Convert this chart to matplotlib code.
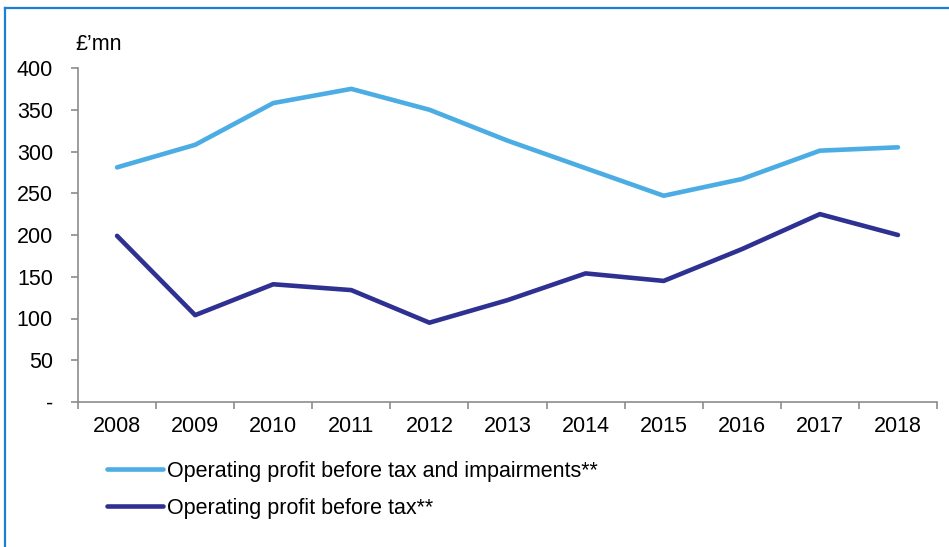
import numpy as np
import matplotlib
matplotlib.use("Agg")
import matplotlib.pyplot as plt
from matplotlib.lines import Line2D

# data (GBP mn)
years = ["2008", "2009", "2010", "2011", "2012", "2013", "2014", "2015", "2016", "2017", "2018"]
profit_pre_impair = [281, 308, 358, 375, 350, 313, 280, 247, 267, 301, 305]
profit_pre_tax = [199, 104, 141, 134, 95, 122, 154, 145, 183, 225, 200]
label_pre_impair = "Operating profit before tax and impairments**"
label_pre_tax = "Operating profit before tax**"
yticks = [0, 50, 100, 150, 200, 250, 300, 350, 400]
ytick_labels = ["-", "50", "100", "150", "200", "250", "300", "350", "400"]

plt.rcParams['font.family'] = ['Liberation Sans', 'DejaVu Sans']
fs = 15.5
light = "#4BADE3"
dark = "#2E3192"
axis_grey = "#8C8C8C"

fig = plt.figure(figsize=(9.49, 5.47), dpi=100)
ax = fig.add_axes([78/949, 1-402/547, (937-78)/949, (402-68)/547])

x = np.arange(len(years))
ax.plot(x, profit_pre_impair, color=light, lw=3.3, solid_capstyle="round", label=label_pre_impair)
ax.plot(x, profit_pre_tax, color=dark, lw=3.3, solid_capstyle="round", label=label_pre_tax)

ax.set_xlim(-0.5, len(years) - 0.5)
ax.set_ylim(0, 400)
ax.set_yticks(yticks)
ax.set_yticklabels(ytick_labels, fontsize=fs)

# categories sit between tick marks
ax.set_xticks(np.arange(len(years) + 1) - 0.5)
ax.set_xticklabels([])
ax.set_xticks(x, minor=True)
ax.set_xticklabels(years, minor=True, fontsize=fs)
ax.tick_params(axis="x", which="minor", length=0, pad=10)
ax.tick_params(axis="x", which="major", length=5, color=axis_grey, width=1.2, direction="out")
ax.tick_params(axis="y", length=5, color=axis_grey, width=1.2, direction="out", pad=13)

for s in ["top", "right"]:
    ax.spines[s].set_visible(False)
for s in ["left", "bottom"]:
    ax.spines[s].set_color(axis_grey)
    ax.spines[s].set_linewidth(1.2)

fig.text(75/949, 1-44/547, "£\u2019mn", fontsize=fs, ha="left", va="center")

fig.legend(loc="upper left", bbox_to_anchor=(98/949, 1-452/547), frameon=False,
           fontsize=fs, handlelength=2.6, handletextpad=0.2, labelspacing=0.75,
           borderaxespad=0)

# blue frame (left and top edges visible)
fig.add_artist(Line2D([5/949, 5/949], [0, 1-8/547], transform=fig.transFigure, color="#1B7FD6", lw=1.6))
fig.add_artist(Line2D([5/949, 1], [1-8/547, 1-8/547], transform=fig.transFigure, color="#1B7FD6", lw=1.6))

fig.savefig("out.png", dpi=100)
